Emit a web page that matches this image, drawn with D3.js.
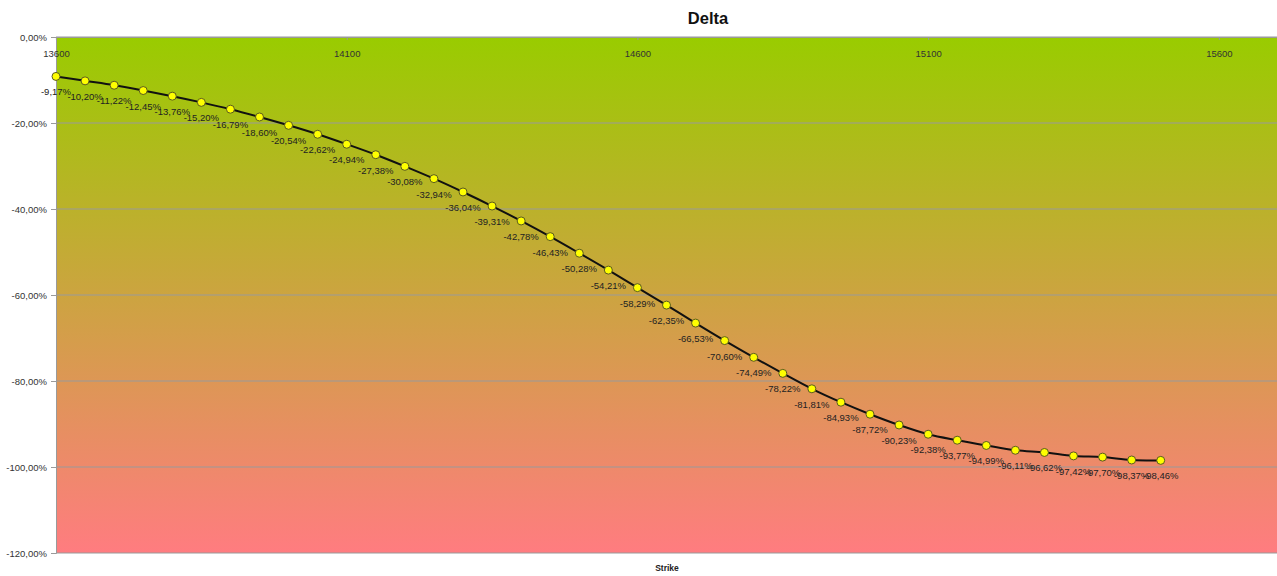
<!DOCTYPE html>
<html>
<head>
<meta charset="utf-8">
<script src="https://cdn.jsdelivr.net/npm/d3@7"></script>
<style>
  html, body { margin: 0; padding: 0; background: #fff; }
  svg { display: block; }
</style>
</head>
<body>
<svg id="chart" width="1277" height="576"></svg>
<script>
// ---- data ----
const strikes = [13600,13650,13700,13750,13800,13850,13900,13950,14000,14050,
                 14100,14150,14200,14250,14300,14350,14400,14450,14500,14550,
                 14600,14650,14700,14750,14800,14850,14900,14950,15000,15050,
                 15100,15150,15200,15250,15300,15350,15400,15450,15500];
const deltas = [-9.17,-10.20,-11.22,-12.45,-13.76,-15.20,-16.79,-18.60,-20.54,-22.62,
                -24.94,-27.38,-30.08,-32.94,-36.04,-39.31,-42.78,-46.43,-50.28,-54.21,
                -58.29,-62.35,-66.53,-70.60,-74.49,-78.22,-81.81,-84.93,-87.72,-90.23,
                -92.38,-93.77,-94.99,-96.11,-96.62,-97.42,-97.70,-98.37,-98.46];
const xTicks = [13600,14100,14600,15100,15600];
const yTicks = [0,-20,-40,-60,-80,-100,-120];
const title = "Delta";
const xTitle = "Strike";

// ---- layout ----
const svg = d3.select("#chart");
const plot = {left: 56, right: 1277, top: 37, bottom: 553};
const x = d3.scaleLinear().domain([13600, 15700]).range([plot.left, plot.right]);
const y = d3.scaleLinear().domain([0, -120]).range([plot.top, plot.bottom]);
const locale = d3.formatLocale({decimal: ",", thousands: ".", grouping: [3], currency: ["", ""], minus: "-"});
const fmt = v => locale.format(".2f")(v) + "%";
const font = "'Liberation Sans', Arial, sans-serif";

// gradient background
const defs = svg.append("defs");
const grad = defs.append("linearGradient").attr("id","bg").attr("x1",0).attr("y1",0).attr("x2",0).attr("y2",1);
grad.append("stop").attr("offset","0%").attr("stop-color","#99cc00");
grad.append("stop").attr("offset","100%").attr("stop-color","#ff7c80");
svg.append("rect").attr("x",plot.left).attr("y",plot.top)
  .attr("width",plot.right-plot.left).attr("height",plot.bottom-plot.top)
  .attr("fill","url(#bg)");

// gridlines
svg.append("g").selectAll("line").data(yTicks).join("line")
  .attr("x1",plot.left).attr("x2",plot.right)
  .attr("y1",d=>y(d)).attr("y2",d=>y(d))
  .attr("stroke","#9a9a9a").attr("stroke-width",1.2);

// y axis
const yAxis = d3.axisLeft(y).tickValues(yTicks).tickFormat(d => fmt(d)).tickSize(5).tickPadding(4);
const gy = svg.append("g").attr("transform",`translate(${plot.left},0)`).call(yAxis);
gy.select(".domain").attr("stroke","#9a9a9a");
gy.selectAll(".tick line").attr("stroke","#9a9a9a");
gy.selectAll("text").attr("font-family",font).attr("font-size","9.5px").attr("fill","#333");

// x axis at y=0 (top)
const xAxis = d3.axisBottom(x).tickValues(xTicks).tickFormat(d3.format("d")).tickSize(3).tickPadding(10);
const gx = svg.append("g").attr("transform",`translate(0,${y(0)})`).call(xAxis);
gx.select(".domain").attr("stroke","#9a9a9a").attr("stroke-width",1.2);
gx.selectAll(".tick line").attr("stroke","#9a9a9a");
gx.selectAll("text").attr("font-family",font).attr("font-size","9.5px").attr("fill","#333");

// line
const pts = strikes.map((s,i)=>({s, d: deltas[i]}));
svg.append("path").datum(pts)
  .attr("d", d3.line().x(d=>x(d.s)).y(d=>y(d.d)).curve(d3.curveCatmullRom.alpha(0.5)))
  .attr("fill","none").attr("stroke","#111").attr("stroke-width",2);

// markers
svg.append("g").selectAll("circle").data(pts).join("circle")
  .attr("cx",d=>x(d.s)).attr("cy",d=>y(d.d)).attr("r",4)
  .attr("fill","#ffff00").attr("stroke","#5a5a20").attr("stroke-width",1);

// data labels
svg.append("g").selectAll("text").data(pts).join("text")
  .attr("x",d=>x(d.s)).attr("y",d=>y(d.d)+19)
  .attr("text-anchor","middle")
  .attr("font-family",font).attr("font-size","9.5px").attr("fill","#222")
  .text(d=>fmt(d.d));

// title
svg.append("text").attr("x",708).attr("y",24).attr("text-anchor","middle")
  .attr("font-family",font).attr("font-weight","bold").attr("font-size","16.5px").attr("fill","#111")
  .text(title);
svg.append("text").attr("x",667).attr("y",571).attr("text-anchor","middle")
  .attr("font-family",font).attr("font-weight","bold").attr("font-size","8.5px").attr("fill","#222")
  .text(xTitle);
</script>
</body>
</html>
